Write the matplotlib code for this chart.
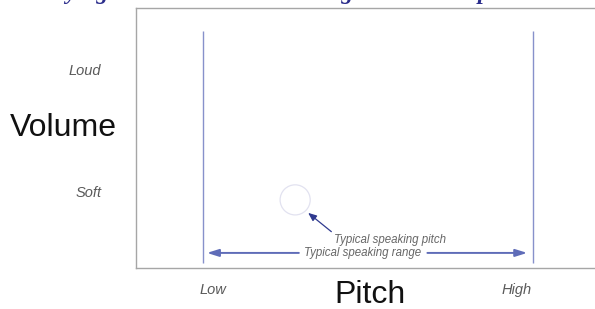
import matplotlib.pyplot as plt

# conceptual chart: pitch (x) vs volume (y), both on a 0-100 scale
pitch_low = 14.4
pitch_high = 85.6
range_lo = 15.3
range_hi = 84.3
range_y = 5.8
typical_pitch = 34.3
typical_volume = 26.2

line_bottom = 1.9
line_top = 91.2

volume_ticks = [76.5, 29.6]
volume_labels = ["Loud", "Soft"]
pitch_ticks = [16.6, 82.1]
pitch_labels = ["Low", "High"]

title = "Varying Volume Across the Range in Actual Speech"

W, H = 595, 309
fig = plt.figure(figsize=(W / 100, H / 100), dpi=100)
ax = fig.add_axes([136 / W, (H - 268) / H, (610 - 136) / W, 260 / H])
ax.set_xlim(0, (610 - 136) / 4.64)
ax.set_ylim(0, 100)

for s in ("left", "top", "bottom"):
    ax.spines[s].set_color("#a6a6a6")
    ax.spines[s].set_linewidth(1.0)
ax.spines["right"].set_visible(False)

sans = ["Liberation Sans", "DejaVu Sans"]
tick_font = dict(family=sans, style="italic", size=10.5, color="#5a5a5a")

ax.set_yticks(volume_ticks, volume_labels, **tick_font)
ax.set_xticks(pitch_ticks, pitch_labels, **tick_font)
ax.tick_params(axis="y", length=0, pad=25)
ax.tick_params(axis="x", length=0, pad=11)

line_col = "#8791cb"
ax.vlines([pitch_low, pitch_high], line_bottom, line_top, color=line_col, lw=1.0)

ax.scatter([typical_pitch], [typical_volume], s=470, facecolor="none",
           edgecolor="#e2e2f0", linewidth=0.9, zorder=3)

ann_font = dict(family=sans, style="italic", size=8.3, color="#666666")
ax.annotate("Typical speaking pitch", xy=(typical_pitch + 2.8, typical_volume - 5.0),
            xytext=(typical_pitch + 8.4, typical_volume - 15.4), ha="left", va="center",
            arrowprops=dict(arrowstyle="-|>,head_length=0.6,head_width=0.25",
                            color="#2f3a8f", lw=0.9, relpos=(0.0, 1.0),
                            shrinkA=0, shrinkB=0),
            **ann_font)

mid = 48.9
ax.text(mid, range_y, "Typical speaking range", ha="center", va="center", **ann_font)
arrow = dict(arrowstyle="-|>,head_length=0.7,head_width=0.22", color="#5f6cb8",
             lw=1.4, shrinkA=0, shrinkB=0)
ax.annotate("", xy=(range_lo, range_y), xytext=(mid - 13.8, range_y), arrowprops=arrow)
ax.annotate("", xy=(range_hi, range_y), xytext=(mid + 13.9, range_y), arrowprops=arrow)

fig.text(63 / W, 1 - 128 / H, "Volume", family=sans, size=23, color="#111111",
         ha="center", va="center")
fig.text(370 / W, 1 - 295 / H, "Pitch", family=sans, size=23, color="#111111",
         ha="center", va="center")

# title sits above the canvas; only its descenders show
fig.text(32 / W, 1 + 1.2 / H, title, family=["Liberation Serif", "DejaVu Serif"],
         style="italic", weight="bold", size=17, color="#2b2d8c", ha="left",
         va="baseline")

fig.savefig("out.png", dpi=100)
